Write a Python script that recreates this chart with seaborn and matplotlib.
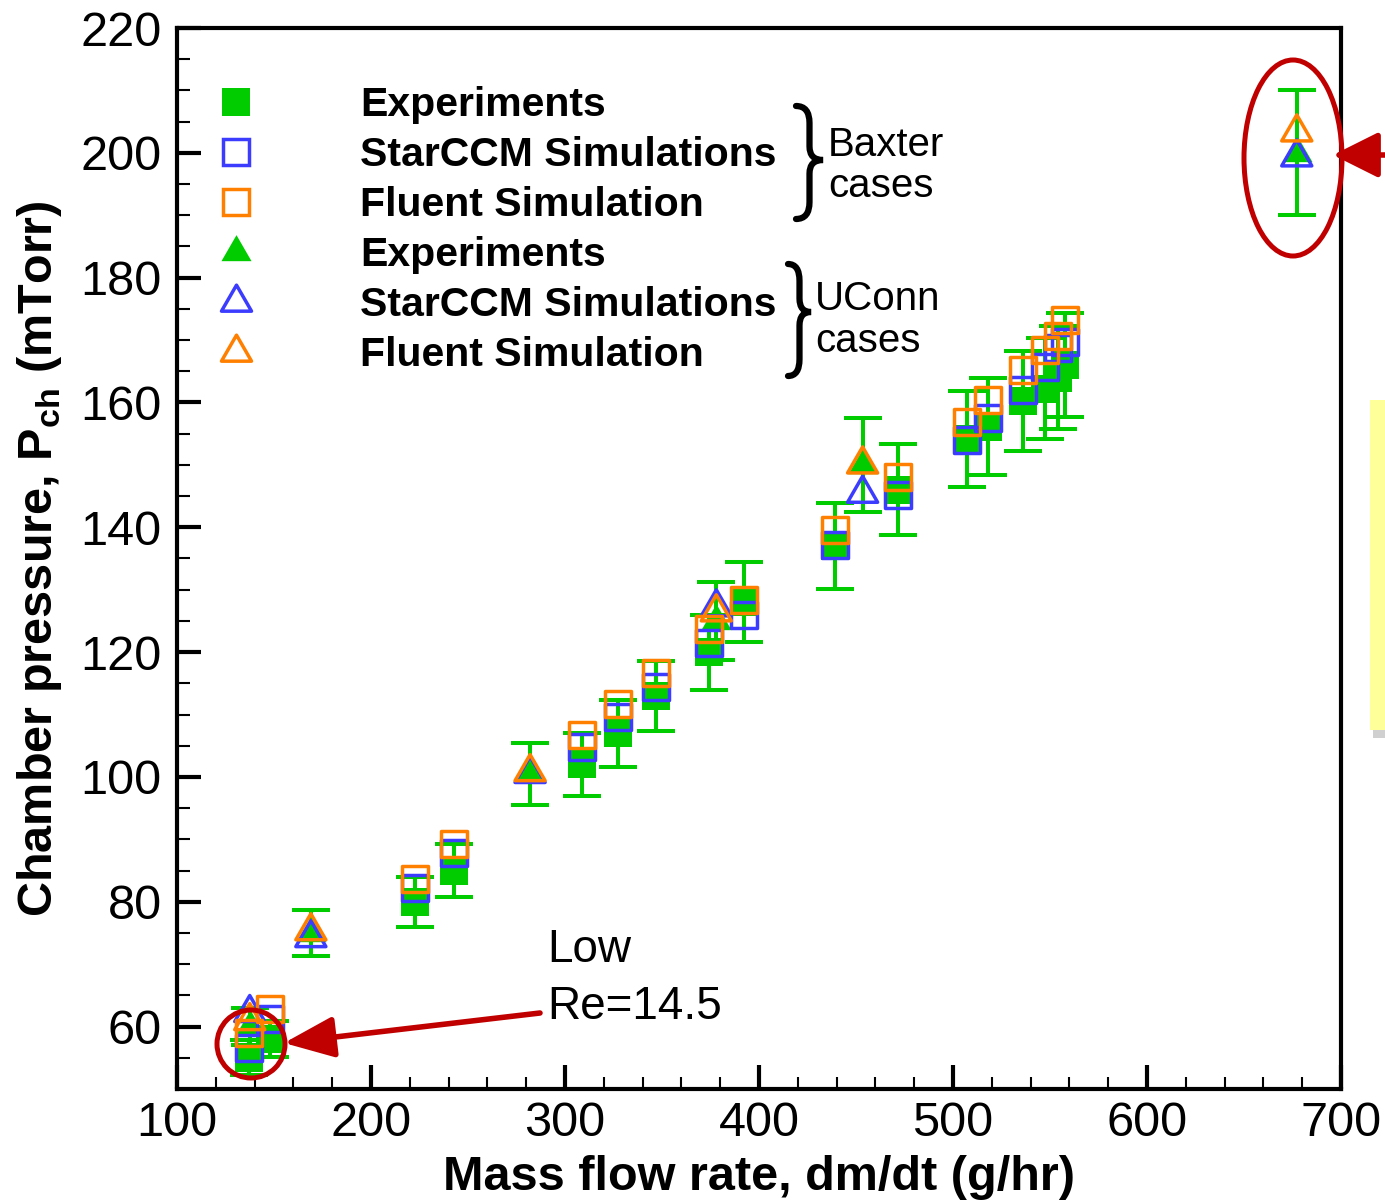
import numpy as np
import matplotlib
matplotlib.use("Agg")
import matplotlib.pyplot as plt
import seaborn as sns
from matplotlib.lines import Line2D
from matplotlib.path import Path
from matplotlib.patches import Ellipse, PathPatch, Rectangle
from matplotlib.ticker import MultipleLocator

# Baxter cases (squares)
baxter_x = [137, 148, 222.7, 242.8, 309, 327.5, 347, 374, 392.4, 439.2, 471.8,
            507.2, 518.2, 536.2, 547.4, 554.3, 557.7]
baxter_exp = [55, 58, 80, 85, 102, 107, 113, 120, 128, 137, 146,
              154.2, 156.1, 160.3, 162.2, 164, 166]
baxter_star = [56.5, 61.2, 82.2, 87.8, 104.8, 109.6, 114.4, 121.4, 126, 137.2, 145.2,
               154, 157.5, 162, 165.7, 168.7, 169.7]
baxter_fluent = [58.9, 62.8, 83.7, 89.3, 106.7, 111.7, 116.7, 123.7, 128.4, 139.6, 148.1,
                 156.9, 160.4, 165.2, 168.4, 170.6, 173.2]
baxter_err = [2.8, 2.9, 4.0, 4.3, 5.1, 5.4, 5.6, 6.0, 6.4, 6.9, 7.3,
              7.7, 7.8, 8.0, 8.1, 8.2, 8.3]

# UConn cases (triangles)
uconn_x = [137.5, 169, 282, 378, 453.4, 677.2]
uconn_exp = [60, 75, 100.5, 125, 150, 200]
uconn_star = [62.2, 74.2, 100.5, 127.2, 145.4, 199.3]
uconn_fluent = [60.9, 75.3, 100.8, 126.4, 150.1, 203.3]
uconn_err = [3.0, 3.75, 5.0, 6.25, 7.5, 10.0]

legend_labels = ["Experiments", "StarCCM Simulations", "Fluent Simulation",
                 "Experiments", "StarCCM Simulations", "Fluent Simulation"]

GREEN = "#00cc00"
BLUE = "#3c3cff"
ORANGE = "#ff8000"
RED = "#c00000"

sns.set_theme(style="ticks")
plt.rcParams["font.family"] = ["Liberation Sans", "DejaVu Sans"]
plt.rcParams["mathtext.fontset"] = "custom"
plt.rcParams["mathtext.rm"] = "Liberation Sans"
plt.rcParams["text.color"] = "black"
plt.rcParams["axes.labelcolor"] = "black"

W, H = 1385, 1204
fig = plt.figure(figsize=(W / 100, H / 100), dpi=100)
ax = fig.add_axes([177 / W, 1 - 1089 / H, (1341 - 177) / W, (1089 - 28) / H])

tri = Path([(0, 1), (-0.866, -0.5), (0.866, -0.5), (0, 1)],
           [Path.MOVETO, Path.LINETO, Path.LINETO, Path.CLOSEPOLY])

sq_s = 350
tri_s = 625
lw_m = 2.5
elw = 2.9

# Baxter
sns.scatterplot(x=baxter_x, y=baxter_exp, marker="s", s=380, color=GREEN,
                linewidth=0, ax=ax, zorder=2)
ax.errorbar(baxter_x, baxter_exp, yerr=baxter_err, fmt="none", ecolor=GREEN,
            elinewidth=elw, capsize=14, capthick=elw, zorder=3)
sns.scatterplot(x=baxter_x, y=baxter_star, marker="s", s=sq_s, facecolor="none",
                edgecolor=BLUE, linewidth=lw_m, ax=ax, zorder=4)
sns.scatterplot(x=baxter_x, y=baxter_fluent, marker="s", s=sq_s, facecolor="none",
                edgecolor=ORANGE, linewidth=lw_m, ax=ax, zorder=5)

# UConn
sns.scatterplot(x=uconn_x, y=uconn_exp, marker=tri, s=tri_s, color=GREEN,
                linewidth=0, ax=ax, zorder=2)
ax.errorbar(uconn_x, uconn_exp, yerr=uconn_err, fmt="none", ecolor=GREEN,
            elinewidth=elw, capsize=14, capthick=elw, zorder=3)
sns.scatterplot(x=uconn_x, y=uconn_star, marker=tri, s=tri_s, facecolor="none",
                edgecolor=BLUE, linewidth=lw_m, ax=ax, zorder=4)
sns.scatterplot(x=uconn_x, y=uconn_fluent, marker=tri, s=tri_s, facecolor="none",
                edgecolor=ORANGE, linewidth=lw_m, ax=ax, zorder=5)

ax.set_xlim(100, 700)
ax.set_ylim(50, 220)
ax.xaxis.set_major_locator(MultipleLocator(100))
ax.xaxis.set_minor_locator(MultipleLocator(20))
ax.set_yticks(np.arange(60, 221, 20))
ax.yaxis.set_minor_locator(MultipleLocator(5))
ax.tick_params(which="major", direction="in", length=17, width=3, labelsize=35,
               pad=11, colors="black")
ax.tick_params(which="minor", direction="in", length=9, width=1.5, colors="black")
ax.tick_params(axis="x", which="major", pad=9)
for sp in ax.spines.values():
    sp.set_linewidth(3)
    sp.set_color("black")
    sp.set_visible(True)

ax.set_xlabel("Mass flow rate, dm/dt (g/hr)", fontsize=35, fontweight="bold", labelpad=6)
ax.set_ylabel(r"Chamber pressure, P$_{\mathregular{ch}}$ (mTorr)", fontsize=35,
              fontweight="bold", labelpad=12)

# legend
handles = [
    Line2D([], [], ls="none", marker="s", ms=19.5, mfc=GREEN, mec=GREEN, mew=0),
    Line2D([], [], ls="none", marker="s", ms=18.7, mfc="none", mec=BLUE, mew=lw_m),
    Line2D([], [], ls="none", marker="s", ms=18.7, mfc="none", mec=ORANGE, mew=lw_m),
    Line2D([], [], ls="none", marker=tri, ms=25, mfc=GREEN, mec=GREEN, mew=0),
    Line2D([], [], ls="none", marker=tri, ms=25, mfc="none", mec=BLUE, mew=lw_m),
    Line2D([], [], ls="none", marker=tri, ms=25, mfc="none", mec=ORANGE, mew=lw_m),
]
leg = ax.legend(handles, legend_labels, loc="upper left",
                bbox_to_anchor=(195 / W, 1 - 86 / H), bbox_transform=fig.transFigure,
                frameon=False, prop={"size": 29.5, "weight": "bold"},
                handlelength=2.0, handletextpad=2.03, labelspacing=0.295,
                borderpad=0, borderaxespad=0)
for t in leg.get_texts():
    t.set_color("black")


def fx(x):
    return x / W


def fy(y):
    return 1 - y / H


def brace(x0, x1, y1, y2, ym):
    xm = (x0 + x1) / 2
    h = y2 - y1
    pts = [(x0, y1), (xm, y1), (xm, y1 + 0.15 * h), (xm, ym - 0.12 * h),
           (xm, ym), (x1, ym), (xm, ym), (xm, ym + 0.12 * h),
           (xm, y2 - 0.15 * h), (xm, y2), (x0, y2)]
    codes = [Path.MOVETO, Path.CURVE3, Path.CURVE3, Path.LINETO,
             Path.CURVE3, Path.CURVE3, Path.CURVE3, Path.CURVE3,
             Path.LINETO, Path.CURVE3, Path.CURVE3]
    p = Path([(fx(a), fy(b)) for a, b in pts], codes)
    fig.add_artist(PathPatch(p, fc="none", ec="black", lw=4.5, capstyle="round",
                             transform=fig.transFigure))


brace(796, 823, 106, 219, 160)
brace(788, 811, 264, 376, 312)
fig.text(fx(828), fy(145), "Baxter", fontsize=29, va="center", ha="left")
fig.text(fx(828), fy(186), "cases", fontsize=29, va="center", ha="left")
fig.text(fx(815), fy(299), "UConn", fontsize=29, va="center", ha="left")
fig.text(fx(815), fy(341), "cases", fontsize=29, va="center", ha="left")

# annotations
fig.text(fx(547), fy(950), "Low", fontsize=33, va="center", ha="left")
fig.text(fx(547), fy(1007), "Re=14.5", fontsize=33, va="center", ha="left")
fig.add_artist(Ellipse((fx(251), fy(1044)), 68 / W, 68 / H, fc="none", ec=RED,
                       lw=3.6, transform=fig.transFigure))
fig.add_artist(Ellipse((fx(1293), fy(158)), 98 / W, 196 / H, fc="none", ec=RED,
                       lw=3.6, transform=fig.transFigure))
ax.annotate("", xy=(fx(284), fy(1043)), xytext=(fx(540), fy(1013)),
            xycoords="figure fraction", textcoords="figure fraction",
            arrowprops=dict(arrowstyle="-|>,head_length=1.1,head_width=0.45",
                            color=RED, lw=4, mutation_scale=28, shrinkA=0, shrinkB=0),
            annotation_clip=False)
ax.annotate("", xy=(fx(1333), fy(155)), xytext=(fx(1390), fy(155)),
            xycoords="figure fraction", textcoords="figure fraction",
            arrowprops=dict(arrowstyle="-|>,head_length=1.0,head_width=0.5",
                            color=RED, lw=4, mutation_scale=28, shrinkA=0, shrinkB=0),
            annotation_clip=False)

# yellow note box at the right edge
fig.add_artist(Rectangle((fx(1373), fy(738)), 20 / W, 330 / H, fc="#d0d0d0", ec="none",
                         transform=fig.transFigure))
fig.add_artist(Rectangle((fx(1370), fy(730)), 20 / W, 330 / H, fc="#ffff99", ec="none",
                         transform=fig.transFigure))

fig.savefig("out.png", dpi=100)
